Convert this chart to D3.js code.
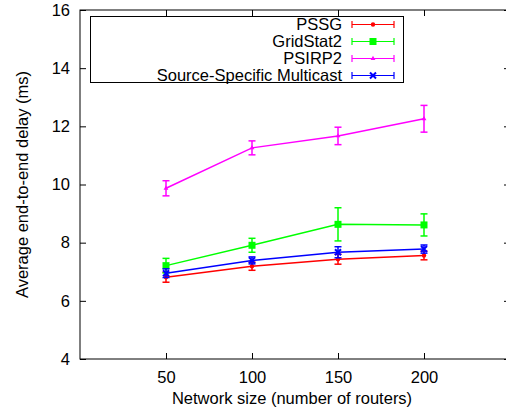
<!DOCTYPE html>
<html>
<head>
<meta charset="utf-8">
<script src="https://cdn.jsdelivr.net/npm/d3@7"></script>
<style>
body { margin: 0; background: #fff; }
text { font-family: "Liberation Sans", Arial, sans-serif; }
</style>
</head>
<body>
<svg id="chart"></svg>
<script>
var width = 506, height = 412;
var margin = {left: 80, top: 10, right: -4, bottom: 53};
var fontSize = "16.5px";

// data
var sizes = [50, 100, 150, 200];
var seriesNames = ["PSSG", "GridStat2", "PSIRP2", "Source-Specific Multicast"];
var seriesColors = ["#ff0000", "#00ff00", "#ff00ff", "#0000ff"];
var seriesMarkers = ["circle", "square", "triangle", "cross"];
var pssg = [6.81, 7.19, 7.43, 7.56];
var pssgErr = [0.17, 0.14, 0.17, 0.15];
var gridstat = [7.21, 7.91, 8.63, 8.61];
var gridstatErr = [0.25, 0.24, 0.57, 0.38];
var psirp = [9.87, 11.26, 11.67, 12.26];
var psirpErr = [0.26, 0.24, 0.3, 0.46];
var ssm = [6.95, 7.39, 7.67, 7.78];
var ssmErr = [0.15, 0.12, 0.19, 0.14];
var xTicks = [50, 100, 150, 200];
var yTicks = [4, 6, 8, 10, 12, 14, 16];

var series = [
  {values: pssg, err: pssgErr},
  {values: gridstat, err: gridstatErr},
  {values: psirp, err: psirpErr},
  {values: ssm, err: ssmErr}
];
series.forEach(function(s, i) {
  s.name = seriesNames[i];
  s.color = seriesColors[i];
  s.marker = seriesMarkers[i];
});

var svg = d3.select("#chart")
  .attr("width", width)
  .attr("height", height);

var x = d3.scaleLinear().domain([0, 250])
  .range([margin.left, width - margin.right]);
var y = d3.scaleLinear().domain([4, 16])
  .range([height - margin.bottom, margin.top]);

// frame
svg.append("rect")
  .attr("x", x(0)).attr("y", y(16))
  .attr("width", x(250) - x(0)).attr("height", y(4) - y(16))
  .attr("fill", "none").attr("stroke", "#000").attr("stroke-width", 1);

// axes
var axBottom = svg.append("g")
  .attr("transform", "translate(0," + y(4) + ")")
  .call(d3.axisBottom(x).tickValues(xTicks).tickSizeInner(-6).tickSizeOuter(0).tickPadding(12));
var axTop = svg.append("g")
  .attr("transform", "translate(0," + y(16) + ")")
  .call(d3.axisTop(x).tickValues(xTicks).tickSizeInner(-6).tickSizeOuter(0).tickFormat(""));
var axLeft = svg.append("g")
  .attr("transform", "translate(" + x(0) + ",0)")
  .call(d3.axisLeft(y).tickValues(yTicks).tickSizeInner(-6).tickSizeOuter(0).tickPadding(10));
var axRight = svg.append("g")
  .attr("transform", "translate(" + x(250) + ",0)")
  .call(d3.axisRight(y).tickValues(yTicks).tickSizeInner(-6).tickSizeOuter(0).tickFormat(""));

[axBottom, axTop, axLeft, axRight].forEach(function(a) {
  a.select(".domain").remove();
  a.selectAll("line").attr("stroke", "#000");
  a.selectAll("text").style("font-size", fontSize).attr("fill", "#000")
    .style("font-family", "'Liberation Sans', Arial, sans-serif");
});

// axis titles
svg.append("text")
  .attr("x", 292).attr("y", 404)
  .attr("text-anchor", "middle")
  .style("font-size", fontSize)
  .text("Network size (number of routers)");
svg.append("text")
  .attr("transform", "translate(28," + ((y(4) + y(16)) / 2) + ")rotate(-90)")
  .attr("text-anchor", "middle")
  .style("font-size", fontSize)
  .text("Average end-to-end delay (ms)");

function drawMarker(g, type, cx, cy, color) {
  if (type == "circle") {
    g.append("circle").attr("cx", cx).attr("cy", cy).attr("r", 2.2).attr("fill", color);
  } else if (type == "square") {
    g.append("rect").attr("x", cx - 3.5).attr("y", cy - 3.5)
      .attr("width", 7).attr("height", 7).attr("fill", color);
  } else if (type == "triangle") {
    g.append("path").attr("d", d3.symbol().type(d3.symbolTriangle).size(10)())
      .attr("transform", "translate(" + cx + "," + cy + ")").attr("fill", color);
  } else {
    g.append("path").attr("d", "M-3,-3L3,3M-3,3L3,-3")
      .attr("transform", "translate(" + cx + "," + cy + ")")
      .attr("stroke", color).attr("stroke-width", 2);
  }
}

var line = d3.line()
  .x(function(d, i) { return x(sizes[i]); })
  .y(function(d) { return y(d); });

var capW = 3.5;
series.forEach(function(s) {
  var g = svg.append("g");
  g.append("path")
    .attr("d", line(s.values))
    .attr("fill", "none")
    .attr("stroke", s.color)
    .attr("stroke-width", 1.5);
  s.values.forEach(function(v, i) {
    var cx = x(sizes[i]);
    var y0 = y(v - s.err[i]), y1 = y(v + s.err[i]);
    g.append("line").attr("x1", cx).attr("x2", cx).attr("y1", y0).attr("y2", y1)
      .attr("stroke", s.color).attr("stroke-width", 1.5);
    [y0, y1].forEach(function(yy) {
      g.append("line").attr("x1", cx - capW).attr("x2", cx + capW)
        .attr("y1", yy).attr("y2", yy)
        .attr("stroke", s.color).attr("stroke-width", 1.5);
    });
    drawMarker(g, s.marker, cx, y(v), s.color);
  });
});

// legend
var legend = svg.append("g");
legend.append("rect")
  .attr("x", 90.5).attr("y", 16.5).attr("width", 313).attr("height", 66)
  .attr("fill", "#fff").attr("stroke", "#000").attr("stroke-width", 1);
series.forEach(function(s, i) {
  var ly = 24.5 + i * 17;
  legend.append("text")
    .attr("x", 342).attr("y", ly + 5.5)
    .attr("text-anchor", "end")
    .style("font-size", fontSize)
    .text(s.name);
  legend.append("line").attr("x1", 352).attr("x2", 394).attr("y1", ly).attr("y2", ly)
    .attr("stroke", s.color).attr("stroke-width", 1.2);
  [352, 394].forEach(function(xx) {
    legend.append("line").attr("x1", xx).attr("x2", xx).attr("y1", ly - 3.5).attr("y2", ly + 3.5)
      .attr("stroke", s.color).attr("stroke-width", 1.2);
  });
  drawMarker(legend, s.marker, 373, ly, s.color);
});
</script>
</body>
</html>
